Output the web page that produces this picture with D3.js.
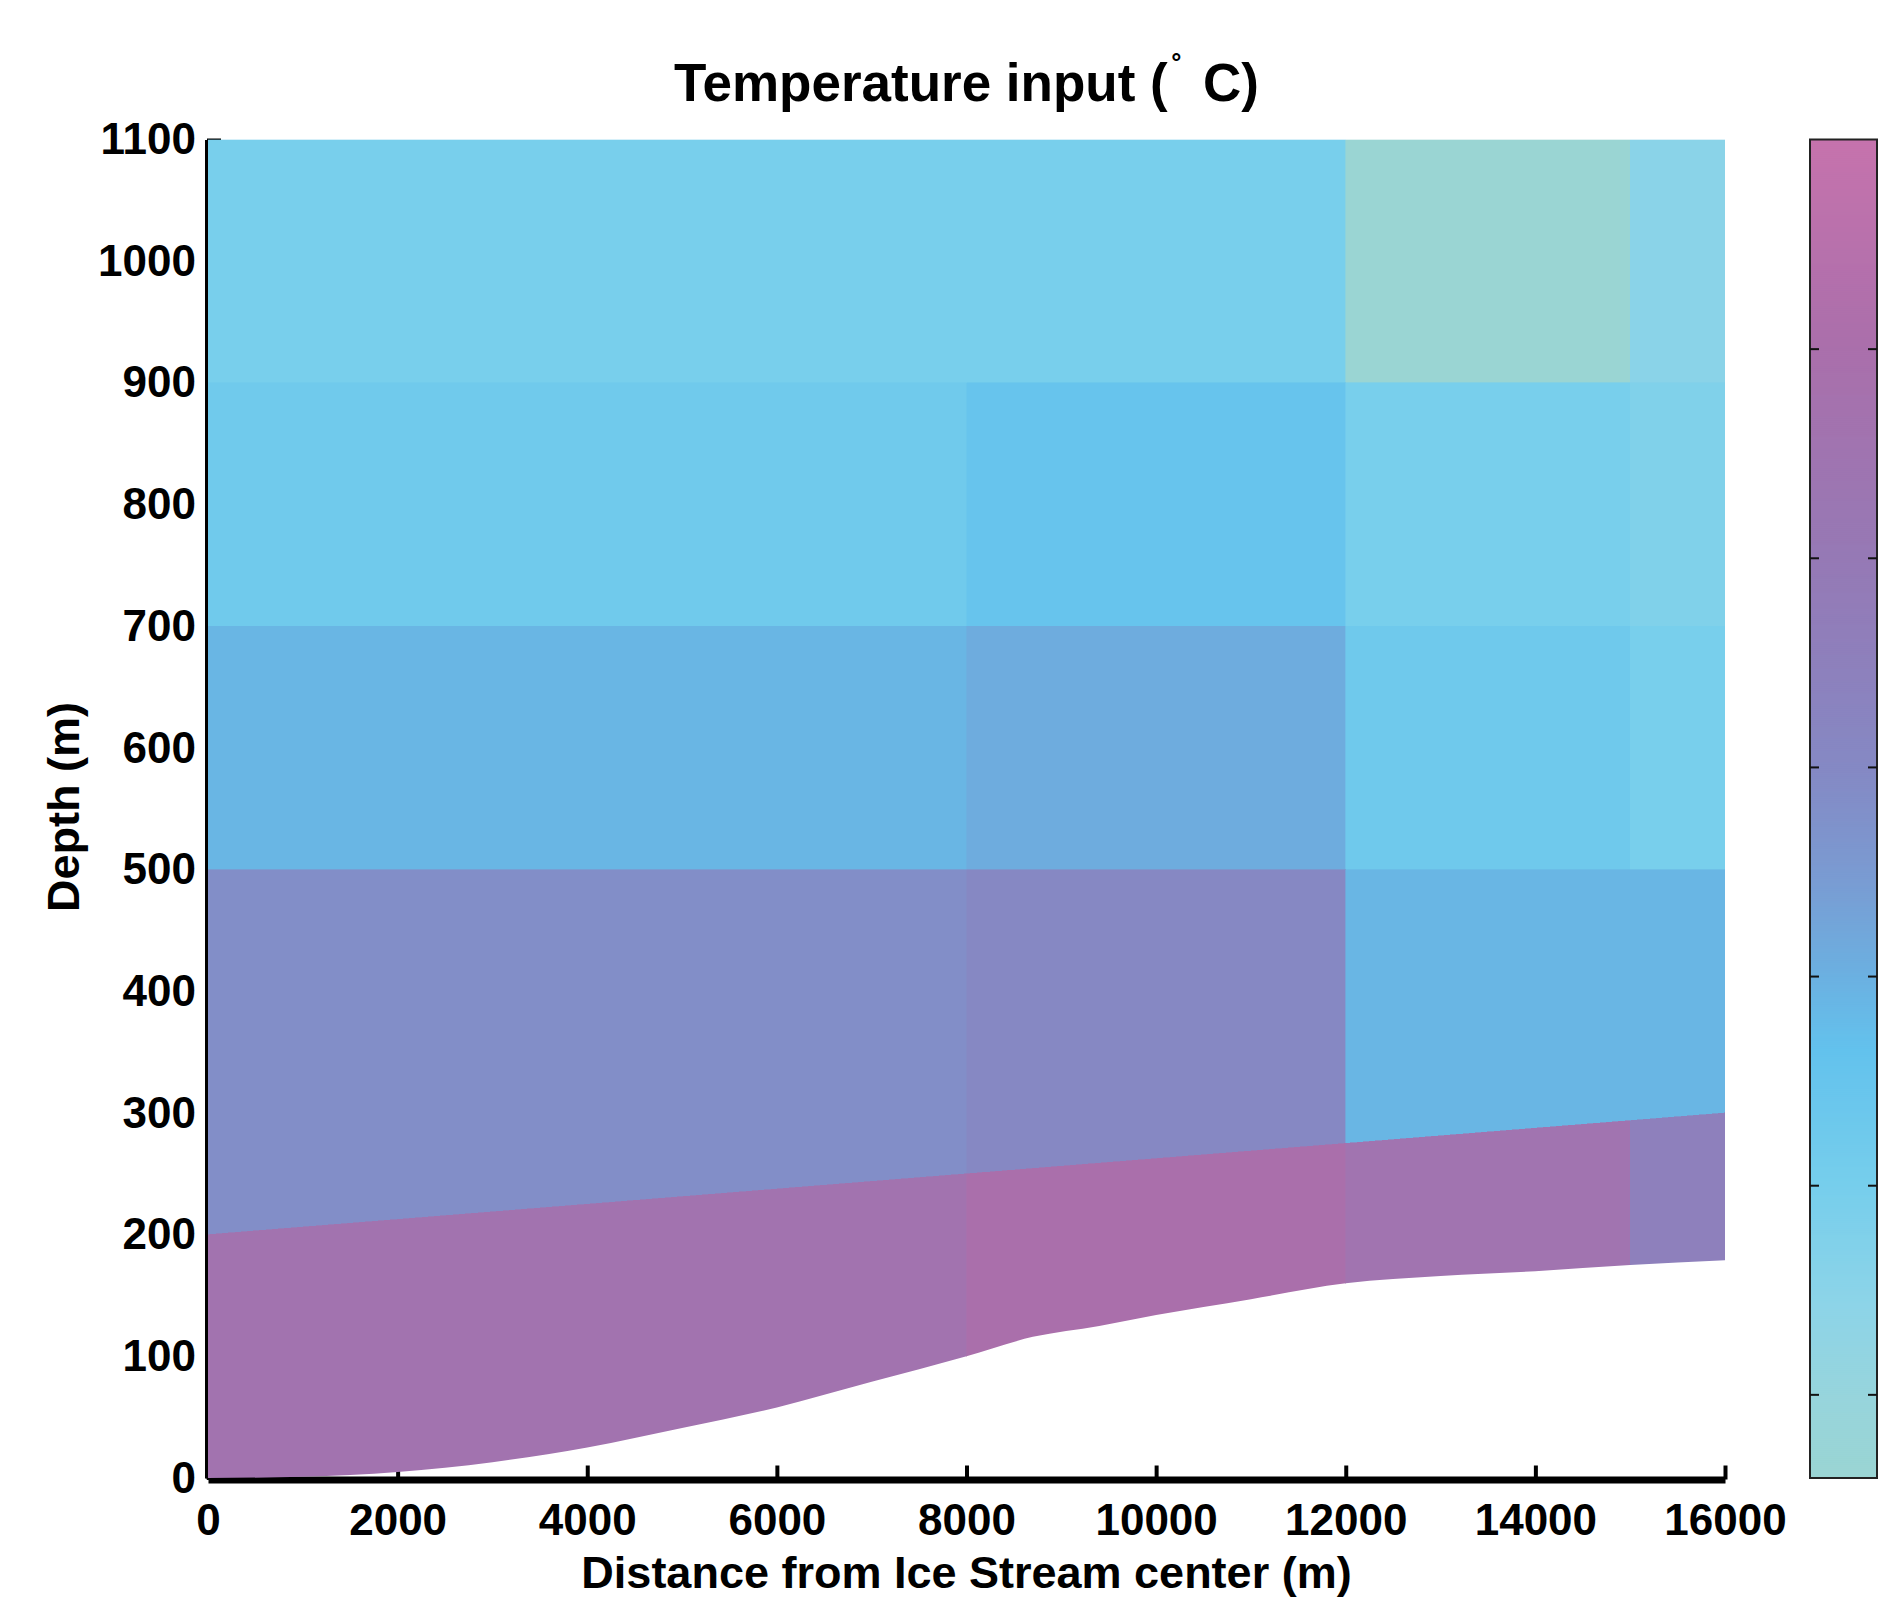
<!DOCTYPE html>
<html>
<head>
<meta charset="utf-8">
<script src="https://cdn.jsdelivr.net/npm/d3@7"></script>
<style>
  body { margin: 0; background: #fff; }
  svg { font-family: "Liberation Sans", Arial, sans-serif; font-weight: bold; }
</style>
</head>
<body>
<svg width="1886" height="1605"></svg>
<script>
// column edges along the section (m)
const xEdges = [0, 8000, 12000, 15000, 16000];
// flat layer boundaries (m above bed datum), top to bottom
const depthEdges = [1100, 900, 700, 500];
// top of lowest layer
const layerTopX = [0, 16000];
const layerTopZ = [200, 300];
// bed profile
const bedX = [0, 1000, 2000, 3000, 4000, 5000, 6000, 7000, 8000, 8700, 9400, 10000, 11000, 12000, 13000, 14000, 15000, 16000];
const bedZ = [0, 1, 5, 13, 25, 41, 58, 79, 100, 116, 125, 134, 147, 160, 166, 170, 175, 179];
// temperature per cell (degC), rows top to bottom, one value per column
const temps = [
  [-23.05, -23.05, -24.4, -23.5],
  [-22.8, -22.48, -23.05, -23.25],
  [-22.1, -21.9, -22.75, -23.05],
  [-21.15, -20.95, -22.1, -22.1],
  [-19.4, -19.0, -19.45, -20.5]
];
const xTicks = [0, 2000, 4000, 6000, 8000, 10000, 12000, 14000, 16000];
const yTicks = [0, 100, 200, 300, 400, 500, 600, 700, 800, 900, 1000, 1100];
const cbTicks = [-24, -23, -22, -21, -20, -19];
const tRange = [-24.4, -18];
// colormap (fraction along colorbar -> colour)
const cmapPos = [0, 0.06, 0.13, 0.22, 0.32, 0.38, 0.45, 0.53, 0.61, 0.69, 0.85, 1];
const cmapColors = ["#9ad5d3", "#97d5dc", "#8dd4e8", "#76ceec", "#63c2ed", "#6cafe0",
                    "#7a9bd2", "#8589c4", "#8e80bc", "#9679b5", "#ab6fab", "#c673ad"];

const svg = d3.select('svg');
const L = 208, R = 1725, T = 139.5, B = 1478;

const x = d3.scaleLinear().domain([0, 16000]).range([L, R]);
const y = d3.scaleLinear().domain([0, 1100]).range([B, T]);
const color = d3.scaleLinear()
  .domain(cmapPos.map(p => tRange[0] + p * (tRange[1] - tRange[0])))
  .range(cmapColors);

const layerTop = d3.scaleLinear().domain(layerTopX).range(layerTopZ);

// axes (drawn under the cells, like the original)
const xAxis = svg.append('g')
  .attr('transform', `translate(0,${B + 1.5})`)
  .call(d3.axisBottom(x).tickValues(xTicks).tickFormat(d3.format('d'))
    .tickSize(-14).tickSizeOuter(0).tickPadding(24));
xAxis.select('.domain').attr('stroke-width', 7);
xAxis.selectAll('.tick line').attr('stroke-width', 4);
xAxis.selectAll('text').attr('font-size', 44).attr('fill', '#000');

const yAxis = svg.append('g')
  .attr('transform', `translate(${L - 1},0)`)
  .call(d3.axisLeft(y).tickValues(yTicks).tickFormat(d3.format('d'))
    .tickSize(-14).tickSizeOuter(0).tickPadding(11));
yAxis.select('.domain').attr('stroke-width', 5);
yAxis.selectAll('.tick line').attr('stroke-width', 3);
yAxis.selectAll('text').attr('font-size', 44).attr('fill', '#000');

// ice body clipped by the smooth bed
const bedArea = d3.area()
  .x((d, i) => x(bedX[i]))
  .y0(() => y(1100))
  .y1(d => y(d))
  .curve(d3.curveMonotoneX);
svg.append('clipPath').attr('id', 'ice')
  .append('path').attr('d', bedArea(bedZ));

const rowTop = [() => 1100, () => 900, () => 700, () => 500, xv => layerTop(xv)];
const rowBot = [() => 900, () => 700, () => 500, xv => layerTop(xv), () => 0];

const cells = [];
temps.forEach((row, r) => {
  row.forEach((t, c) => {
    const xs = [xEdges[c], xEdges[c + 1]];
    const pts = xs.map(v => [x(v), y(rowTop[r](v))])
      .concat(xs.slice().reverse().map(v => [x(v), y(rowBot[r](v))]));
    cells.push({ t, pts });
  });
});

svg.append('g')
  .attr('clip-path', 'url(#ice)')
  .selectAll('path')
  .data(cells)
  .join('path')
  .attr('d', d => 'M' + d.pts.join('L') + 'Z')
  .attr('fill', d => color(d.t))
  .attr('stroke', d => color(d.t))
  .attr('stroke-width', 0.6)
  .attr('shape-rendering', 'crispEdges');

// title and labels
const title = svg.append('text')
  .attr('x', (L + R) / 2).attr('y', 101)
  .attr('text-anchor', 'middle').attr('font-size', 53);
title.append('tspan').text('Temperature input (');
title.append('tspan').attr('font-size', 32).attr('dy', -22).attr('dx', 4).text('\u02DA');
title.append('tspan').attr('dy', 22).attr('dx', 6).text(' C)');

svg.append('text')
  .attr('x', (L + R) / 2).attr('y', 1588)
  .attr('text-anchor', 'middle').attr('font-size', 45)
  .text('Distance from Ice Stream center (m)');

svg.append('text')
  .attr('transform', 'translate(79,807) rotate(-90)')
  .attr('text-anchor', 'middle').attr('font-size', 45)
  .text('Depth (m)');

// colorbar
const cbL = 1810, cbW = 67;
const cb = d3.scaleLinear().domain(tRange).range([B, T]);
const steps = d3.range(B, T, -2);
const cbg = svg.append('g');
cbg.selectAll('rect')
  .data(steps)
  .join('rect')
  .attr('x', cbL).attr('width', cbW)
  .attr('y', d => Math.max(T, d - 2)).attr('height', 2.6)
  .attr('fill', d => color(cb.invert(d - 1)));
cbg.append('rect')
  .attr('x', cbL).attr('y', T).attr('width', cbW).attr('height', B - T)
  .attr('fill', 'none').attr('stroke', '#222').attr('stroke-width', 2);
const cbAxisL = cbg.append('g').attr('transform', `translate(${cbL},0)`)
  .call(d3.axisRight(cb).tickValues(cbTicks).tickSize(9).tickFormat(''));
const cbAxisR = cbg.append('g').attr('transform', `translate(${cbL + cbW},0)`)
  .call(d3.axisLeft(cb).tickValues(cbTicks).tickSize(9).tickFormat(''));
[cbAxisL, cbAxisR].forEach(a => {
  a.select('.domain').remove();
  a.selectAll('.tick line').attr('stroke', '#111').attr('stroke-width', 2);
});
</script>
</body>
</html>
